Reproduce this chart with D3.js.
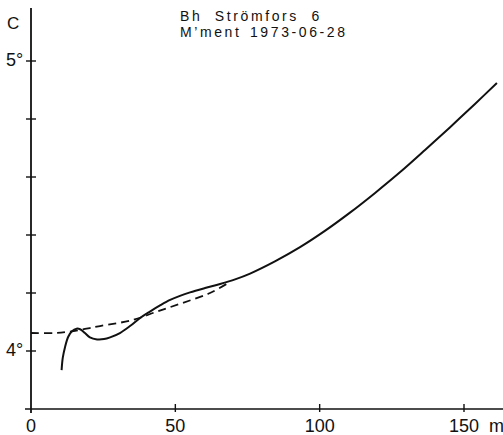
<!DOCTYPE html>
<html>
<head>
<meta charset="utf-8">
<script src="https://cdn.jsdelivr.net/npm/d3@7"></script>
<style>
  html, body { margin: 0; padding: 0; background: #fff; }
  svg { display: block; }
  text { font-family: "Liberation Sans", Arial, sans-serif; fill: #111; }
</style>
</head>
<body>
<svg id="chart" width="503" height="435"></svg>
<script>
// measured profile (depth m, temperature C)
var measDepth = [10.6, 11.0, 11.8, 12.9, 14.1, 15.8, 17.0, 18.7, 20.4, 22.9, 25.3, 27.4, 30.8, 34.3, 37.8, 41.2, 44.7, 48.2, 51.6, 55.1, 60.3, 65.5, 70.7, 75.9, 84.5, 93.2, 101.8, 110.5, 119.2, 127.8, 136.5, 145.1, 153.8, 161.4];
var measTemp = [3.934, 3.976, 4.014, 4.049, 4.067, 4.077, 4.075, 4.062, 4.047, 4.040, 4.041, 4.047, 4.062, 4.086, 4.114, 4.136, 4.157, 4.176, 4.190, 4.202, 4.217, 4.231, 4.247, 4.267, 4.309, 4.358, 4.414, 4.477, 4.545, 4.616, 4.693, 4.771, 4.852, 4.924];

// dashed (corrected) curve
var dashDepth = [0, 8.3, 13.5, 18.7, 23.9, 35.3, 43.6, 52.6, 62.0, 68.9];
var dashTemp = [4.062, 4.062, 4.067, 4.076, 4.086, 4.107, 4.136, 4.166, 4.200, 4.238];

var xTicks = [0, 50, 100, 150];
var xLabels = ["0", "50", "100", "150"];
var yTicks = [4.0, 4.2, 4.4, 4.6, 4.8, 5.0];
var yLabels = {"4": "4°", "5": "5°"};
var title = ["Bh Strömfors 6", "M\u2019ment 1973-06-28"];

var svg = d3.select("#chart");
var width = 503;

var x = d3.scaleLinear().domain([0, 150]).range([31, 464]);
var y = d3.scaleLinear().domain([4, 5]).range([351, 61]);
var yBase = y(3.8);

var ink = "#111";

// axes lines
svg.append("line")
  .attr("x1", x(0)).attr("x2", x(0))
  .attr("y1", 8).attr("y2", yBase + 4)
  .attr("stroke", ink).attr("stroke-width", 1.8);

svg.append("line")
  .attr("x1", x(0) - 6).attr("x2", width)
  .attr("y1", yBase).attr("y2", yBase)
  .attr("stroke", ink).attr("stroke-width", 1.6);

// y ticks
svg.selectAll(".ytick").data(yTicks).enter().append("line")
  .attr("class", "ytick")
  .attr("x1", x(0) - 5).attr("x2", x(0) + 5)
  .attr("y1", function(d) { return y(d); })
  .attr("y2", function(d) { return y(d); })
  .attr("stroke", ink).attr("stroke-width", 1.4);

svg.selectAll(".ylab").data(yTicks.filter(function(d) { return yLabels[String(d)]; }))
  .enter().append("text")
  .attr("class", "ylab")
  .attr("x", 6)
  .attr("y", function(d) { return y(d) + 5; })
  .attr("font-size", 18)
  .text(function(d) { return yLabels[String(d)]; });

// x ticks
svg.selectAll(".xtick").data(xTicks.slice(1)).enter().append("line")
  .attr("class", "xtick")
  .attr("x1", function(d) { return x(d); })
  .attr("x2", function(d) { return x(d); })
  .attr("y1", yBase - 5).attr("y2", yBase + 3)
  .attr("stroke", ink).attr("stroke-width", 1.4);

svg.selectAll(".xlab").data(xTicks).enter().append("text")
  .attr("class", "xlab")
  .attr("x", function(d) { return x(d); })
  .attr("y", 432)
  .attr("text-anchor", "middle")
  .attr("font-size", 18)
  .text(function(d, i) { return xLabels[i]; });

svg.append("text")
  .attr("x", x(150) + 25).attr("y", 432)
  .attr("font-size", 18)
  .text("m");

svg.append("text")
  .attr("x", 7).attr("y", 29)
  .attr("font-size", 17)
  .text("C");

// title
svg.selectAll(".title").data(title).enter().append("text")
  .attr("class", "title")
  .attr("x", 180)
  .attr("y", function(d, i) { return 21 + i * 16; })
  .attr("font-size", 14)
  .attr("letter-spacing", 2.6)
  .attr("word-spacing", function(d, i) { return i === 0 ? 6 : 2; })
  .text(function(d) { return d; });

// curves
var line = d3.line()
  .x(function(d) { return x(d[0]); })
  .y(function(d) { return y(d[1]); })
  .curve(d3.curveCatmullRom.alpha(0.5));

svg.append("path")
  .datum(dashDepth.map(function(d, i) { return [d, dashTemp[i]]; }))
  .attr("d", line)
  .attr("fill", "none")
  .attr("stroke", ink)
  .attr("stroke-width", 1.8)
  .attr("stroke-dasharray", "8,5");

svg.append("path")
  .datum(measDepth.map(function(d, i) { return [d, measTemp[i]]; }))
  .attr("d", line)
  .attr("fill", "none")
  .attr("stroke", ink)
  .attr("stroke-width", 2);
</script>
</body>
</html>
